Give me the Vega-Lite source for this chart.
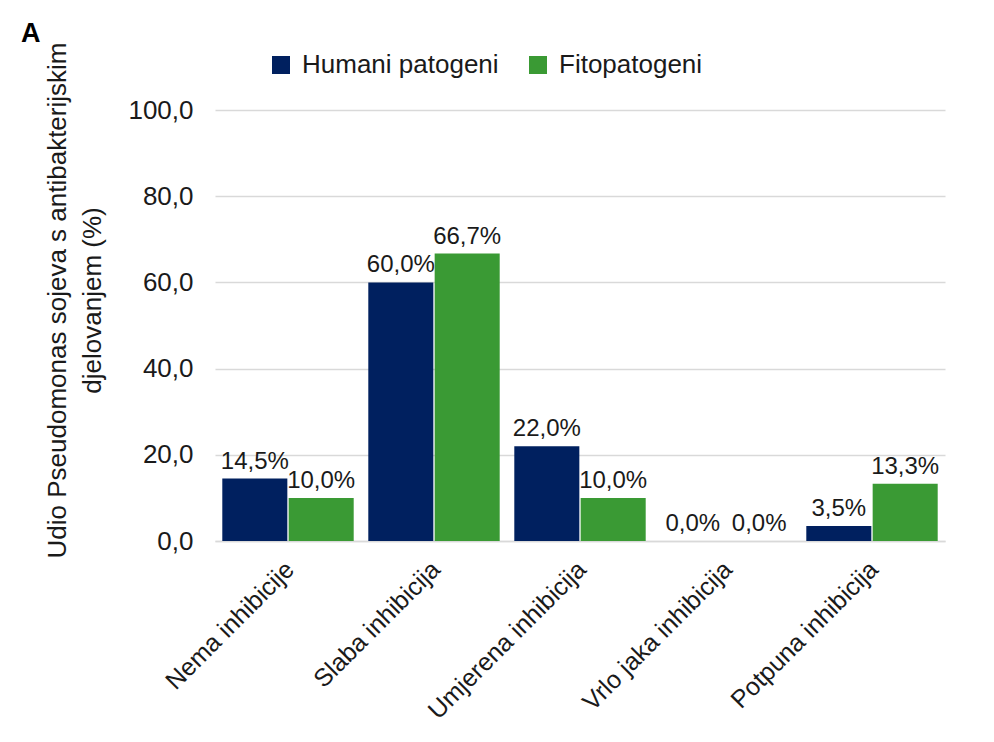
{
  "$schema": "https://vega.github.io/schema/vega-lite/v6.json",
  "autosize": {"type": "none"},
  "width": 730,
  "height": 431,
  "padding": {"left": 215, "top": 110, "right": 49, "bottom": 201},
  "background": "white",
  "title": {"text": "A", "anchor": "start", "frame": "group", "dx": -194, "dy": 10, "fontSize": 27, "fontWeight": "bold", "font": "Liberation Sans", "color": "#000000"},
  "data": {"values": [
    {"kat": "Nema inhibicije", "grupa": "Humani patogeni", "v": 14.5},
    {"kat": "Nema inhibicije", "grupa": "Fitopatogeni", "v": 10.0},
    {"kat": "Slaba inhibicija", "grupa": "Humani patogeni", "v": 60.0},
    {"kat": "Slaba inhibicija", "grupa": "Fitopatogeni", "v": 66.7},
    {"kat": "Umjerena inhibicija", "grupa": "Humani patogeni", "v": 22.0},
    {"kat": "Umjerena inhibicija", "grupa": "Fitopatogeni", "v": 10.0},
    {"kat": "Vrlo jaka inhibicija", "grupa": "Humani patogeni", "v": 0.0},
    {"kat": "Vrlo jaka inhibicija", "grupa": "Fitopatogeni", "v": 0.0},
    {"kat": "Potpuna inhibicija", "grupa": "Humani patogeni", "v": 3.5},
    {"kat": "Potpuna inhibicija", "grupa": "Fitopatogeni", "v": 13.3}
  ]},
  "transform": [{"calculate": "format(datum.v, '.1f') + '%'", "as": "lab"}],
  "encoding": {
    "x": {"field": "kat", "type": "nominal", "sort": null,
      "scale": {"paddingInner": 0.1, "paddingOuter": 0.05},
      "axis": {"title": null, "labelAngle": -45, "labelAlign": "right", "labelBaseline": "middle", "labelPadding": 24, "labelOffset": 2, "labelFontSize": 25, "labelFont": "Liberation Sans", "labelColor": "#1a1a1a", "ticks": false, "domainColor": "#d9d9d9", "domainWidth": 1.5, "labelLimit": 400}},
    "xOffset": {"field": "grupa", "type": "nominal", "sort": ["Humani patogeni", "Fitopatogeni"], "scale": {"paddingInner": 0.02}},
    "y": {"field": "v", "type": "quantitative",
      "scale": {"domain": [0, 100], "nice": false},
      "axis": {"values": [0, 20, 40, 60, 80, 100], "format": ".1f", "title": ["Udio Pseudomonas sojeva s antibakterijskim", "djelovanjem (%)"], "titleFontSize": 26, "titleFontWeight": "normal", "titleFont": "Liberation Sans", "titleColor": "#1a1a1a", "titleLineHeight": 35, "titleBaseline": "alphabetic", "titleX": -150, "titleY": 190, "titleAngle": 270, "labelFontSize": 26, "labelFont": "Liberation Sans", "labelColor": "#1a1a1a", "labelPadding": 22, "ticks": false, "domain": false, "grid": true, "gridColor": "#d9d9d9", "gridWidth": 1.5}}
  },
  "layer": [
    {"mark": {"type": "bar"},
     "encoding": {"color": {"field": "grupa", "type": "nominal", "sort": ["Humani patogeni", "Fitopatogeni"],
       "scale": {"domain": ["Humani patogeni", "Fitopatogeni"], "range": ["#00205f", "#3a9a34"]},
       "legend": {"title": null, "orient": "none", "direction": "horizontal", "legendX": 53, "legendY": -58, "symbolType": "square", "symbolSize": 324, "symbolStrokeWidth": 0, "labelFontSize": 26, "labelFont": "Liberation Sans", "labelColor": "#1a1a1a", "labelOffset": 8, "columnPadding": 26, "labelLimit": 400}}}},
    {"mark": {"type": "text", "baseline": "alphabetic", "dy": -10, "fontSize": 24, "font": "Liberation Sans", "color": "#1a1a1a"},
     "encoding": {"text": {"field": "lab"}}}
  ],
  "config": {
    "locale": {"number": {"decimal": ",", "thousands": ".", "grouping": [3], "currency": ["", " €"]}},
    "view": {"stroke": null},
    "axis": {"labelOverlap": false}
  }
}
